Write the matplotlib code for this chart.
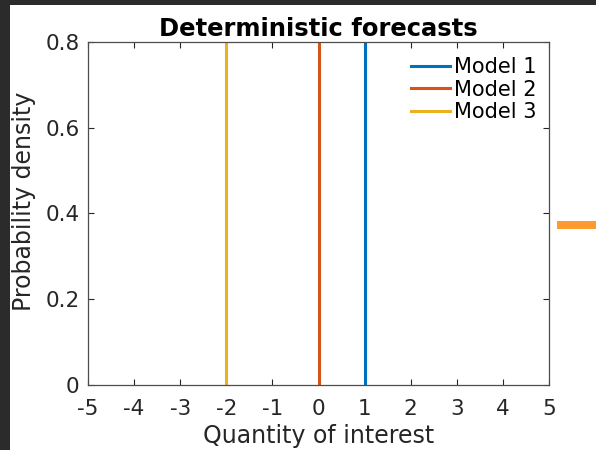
import matplotlib.pyplot as plt
from matplotlib.patches import Rectangle

plt.rcParams['axes.unicode_minus'] = False

# model point forecasts (vertical lines)
models = ['Model 1', 'Model 2', 'Model 3']
forecasts = [1, 0, -2]
colors = ['#0072BD', '#D95319', '#EDB120']

xticks = [-5, -4, -3, -2, -1, 0, 1, 2, 3, 4, 5]
yticks = [0, 0.2, 0.4, 0.6, 0.8]

W, H = 596, 450
fig = plt.figure(figsize=(W / 100, H / 100), dpi=100, facecolor='#2b2b2b')

# white panel behind the plot
fig.patches.append(Rectangle((10 / W, 0), 1 - 10 / W, 1 - 5 / H, transform=fig.transFigure,
                             facecolor='white', edgecolor='none', zorder=-10))

ax = fig.add_axes([88 / W, 1 - 385 / H, (549 - 88) / W, (385 - 42) / H])
for x, c, m in zip(forecasts, colors, models):
    ax.plot([x, x], [0, 0.8], color=c, lw=2.2, label=m)

ax.set_xlim(-5, 5)
ax.set_ylim(0, 0.8)
ax.set_xticks(xticks)
ax.set_yticks(yticks)
ax.set_yticklabels(['0', '0.2', '0.4', '0.6', '0.8'])
ax.tick_params(direction='in', length=4, width=0.8, top=True, right=True,
               labelsize=15.5, colors='#262626')
ax.tick_params(axis='x', pad=10)
ax.tick_params(axis='y', pad=6)
for s in ax.spines.values():
    s.set_color('#4d4d4d')
    s.set_linewidth(0.9)

ax.set_xlabel('Quantity of interest', fontsize=17, color='#262626', labelpad=4)
ax.set_ylabel('Probability density', fontsize=17, color='#262626')
ax.yaxis.set_label_coords(-0.113, 0.536)
ax.set_title('Deterministic forecasts', fontsize=17.5, fontweight='bold', pad=4)

ax.legend(loc='upper right', bbox_to_anchor=(0.99, 0.98), frameon=False, fontsize=15,
          handlelength=1.9, handletextpad=0.15, labelspacing=0.12, borderaxespad=0)

# orange bar from the slide
fig.patches.append(Rectangle((557 / W, 1 - 229 / H), 40 / W, 8 / H, transform=fig.transFigure,
                             facecolor='#FF9A2E', edgecolor='none', zorder=5))

fig.savefig('out.png', dpi=100, facecolor=fig.get_facecolor())
